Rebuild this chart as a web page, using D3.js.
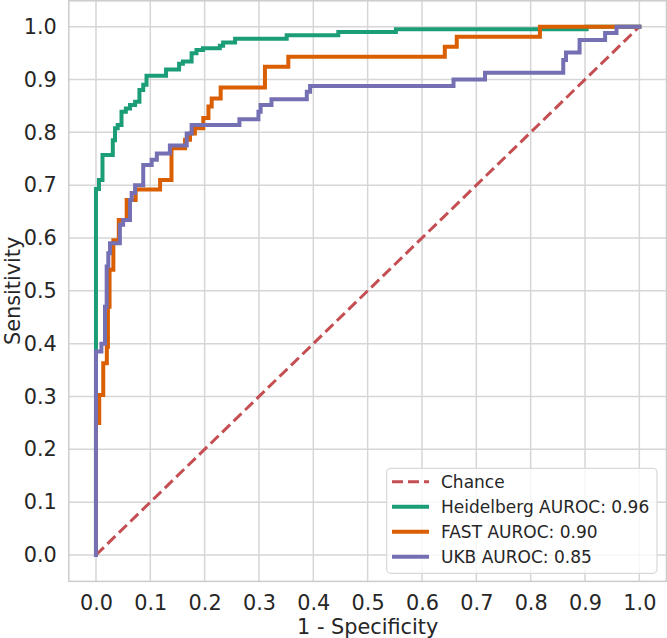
<!DOCTYPE html>
<html>
<head>
<meta charset="utf-8">
<script src="https://cdn.jsdelivr.net/npm/d3@7"></script>
<style>
  html, body { margin: 0; padding: 0; background: #fff; }
  svg { display: block; }
  text { font-family: "DejaVu Sans", sans-serif; fill: #262626; }
</style>
</head>
<body>
<div id="chart"></div>
<script>
// ---- data ----
const ticks = [0, 0.1, 0.2, 0.3, 0.4, 0.5, 0.6, 0.7, 0.8, 0.9, 1.0];
const chanceFpr = [0, 1];
const chanceTpr = [0, 1];

// ROC corner points: fpr and the tpr reached after the vertical rise at that fpr
const heidelbergFpr = [0, 0, 0.0055, 0.012, 0.031, 0.035, 0.040, 0.047, 0.055, 0.0626, 0.072, 0.080, 0.087, 0.093, 0.129, 0.153, 0.160, 0.176, 0.185, 0.197, 0.228, 0.234, 0.256, 0.351, 0.446, 0.552, 0.903, 1.0];
const heidelbergTpr = [0, 0.693, 0.710, 0.757, 0.785, 0.808, 0.814, 0.839, 0.845, 0.852, 0.858, 0.880, 0.890, 0.907, 0.919, 0.930, 0.934, 0.950, 0.956, 0.959, 0.964, 0.970, 0.977, 0.984, 0.990, 0.995, 1.0, 1.0];

const fastFpr = [0, 0, 0.006, 0.0134, 0.020, 0.022, 0.025, 0.032, 0.042, 0.0565, 0.073, 0.118, 0.139, 0.164, 0.173, 0.182, 0.1975, 0.207, 0.213, 0.2295, 0.311, 0.354, 0.642, 0.664, 0.817, 1.0];
const fastTpr = [0, 0.250, 0.303, 0.363, 0.394, 0.470, 0.540, 0.596, 0.634, 0.672, 0.692, 0.710, 0.770, 0.786, 0.798, 0.808, 0.827, 0.849, 0.864, 0.885, 0.924, 0.943, 0.962, 0.981, 1.0, 1.0];

const ukbFpr = [0, 0, 0.010, 0.0166, 0.0197, 0.0227, 0.0258, 0.044, 0.050, 0.0626, 0.0657, 0.072, 0.087, 0.1025, 0.112, 0.136, 0.167, 0.176, 0.264, 0.299, 0.303, 0.323, 0.388, 0.394, 0.658, 0.716, 0.860, 0.865, 0.890, 0.937, 0.958, 1.0];
const ukbTpr = [0, 0.385, 0.400, 0.470, 0.546, 0.571, 0.590, 0.625, 0.634, 0.672, 0.685, 0.700, 0.738, 0.748, 0.760, 0.775, 0.798, 0.814, 0.825, 0.839, 0.852, 0.8625, 0.877, 0.888, 0.900, 0.913, 0.937, 0.951, 0.975, 0.988, 1.0, 1.0];

const seriesNames = ["Heidelberg AUROC: 0.96", "FAST AUROC: 0.90", "UKB AUROC: 0.85"];
const seriesColors = ["#1b9e77", "#d95f02", "#7570b3"];
const chanceName = "Chance";
const chanceColor = "#c44e52";

// ---- layout ----
const W = 667, H = 638;
const mLeft = 68.8, mRight = 666.5, mTop = 0.3, mBottom = 581.4;

const svg = d3.select("#chart").append("svg").attr("width", W).attr("height", H);

const x = d3.scaleLinear().domain([-0.05, 1.05]).range([mLeft, mRight]);
const y = d3.scaleLinear().domain([-0.05, 1.05]).range([mBottom, mTop]);

svg.append("defs").append("clipPath").attr("id", "clip")
  .append("rect").attr("x", mLeft).attr("y", mTop).attr("width", mRight - mLeft).attr("height", mBottom - mTop);

// grid
const grid = svg.append("g");
grid.selectAll("line.gx").data(ticks).join("line").attr("class", "gx")
  .attr("x1", d => x(d)).attr("x2", d => x(d)).attr("y1", mTop).attr("y2", mBottom)
  .attr("stroke", "#d6d6d6").attr("stroke-width", 1.5);
grid.selectAll("line.gy").data(ticks).join("line").attr("class", "gy")
  .attr("y1", d => y(d)).attr("y2", d => y(d)).attr("x1", mLeft).attr("x2", mRight)
  .attr("stroke", "#d6d6d6").attr("stroke-width", 1.5);

// frame
svg.append("rect").attr("x", mLeft).attr("y", mTop + 0.5).attr("width", mRight - mLeft).attr("height", mBottom - mTop - 0.5)
  .attr("fill", "none").attr("stroke", "#cccccc").attr("stroke-width", 1.5);

// axes (labels only)
const xAxis = d3.axisBottom(x).tickValues(ticks).tickFormat(d3.format(".1f")).tickSize(0).tickPadding(14);
const yAxis = d3.axisLeft(y).tickValues(ticks).tickFormat(d3.format(".1f")).tickSize(0).tickPadding(12);
const gx = svg.append("g").attr("transform", `translate(0,${mBottom})`).call(xAxis);
const gy = svg.append("g").attr("transform", `translate(${mLeft},0)`).call(yAxis);
[gx, gy].forEach(g => {
  g.select(".domain").remove();
  g.selectAll("text").attr("font-family", "DejaVu Sans").attr("font-size", 20.8).attr("fill", "#262626");
});

svg.append("text").attr("x", (mLeft + mRight) / 2).attr("y", 633.5)
  .attr("text-anchor", "middle").attr("font-size", 20.8).text("1 - Specificity");
svg.append("text").attr("transform", `translate(19.5,${(mTop + mBottom) / 2}) rotate(-90)`)
  .attr("text-anchor", "middle").attr("font-size", 20.8).text("Sensitivity");

// curves
const plot = svg.append("g").attr("clip-path", "url(#clip)");
const chanceLine = d3.line().x(d => x(d[0])).y(d => y(d[1]));
plot.append("path").datum(d3.zip(chanceFpr, chanceTpr)).attr("d", chanceLine)
  .attr("fill", "none").attr("stroke", chanceColor).attr("stroke-width", 3)
  .attr("stroke-dasharray", "11,5");

const rocLine = d3.line().x(d => x(d[0])).y(d => y(d[1])).curve(d3.curveStepAfter);
const seriesData = [d3.zip(heidelbergFpr, heidelbergTpr), d3.zip(fastFpr, fastTpr), d3.zip(ukbFpr, ukbTpr)];
seriesData.forEach((pts, i) => {
  plot.append("path").datum(pts).attr("d", rocLine)
    .attr("fill", "none").attr("stroke", seriesColors[i]).attr("stroke-width", 4)
    .attr("stroke-linejoin", "miter").attr("stroke-linecap", "square");
});

// legend
const lg = svg.append("g");
lg.append("rect").attr("x", 386.7).attr("y", 468.3).attr("width", 270.3).attr("height", 105)
  .attr("rx", 4).attr("fill", "rgba(255,255,255,0.8)").attr("stroke", "#d9d9d9").attr("stroke-width", 1.2);
const legendItems = [{ name: chanceName, color: chanceColor, dash: true }]
  .concat(seriesNames.map((n, i) => ({ name: n, color: seriesColors[i], dash: false })));
legendItems.forEach((it, i) => {
  const cy = 481.7 + i * 25;
  lg.append("line").attr("x1", 392).attr("x2", 429).attr("y1", cy).attr("y2", cy)
    .attr("stroke", it.color).attr("stroke-width", it.dash ? 3 : 4)
    .attr("stroke-dasharray", it.dash ? "11,5" : null);
  lg.append("text").attr("x", 441).attr("y", cy + 6.2).attr("font-size", 17).text(it.name);
});
</script>
</body>
</html>
